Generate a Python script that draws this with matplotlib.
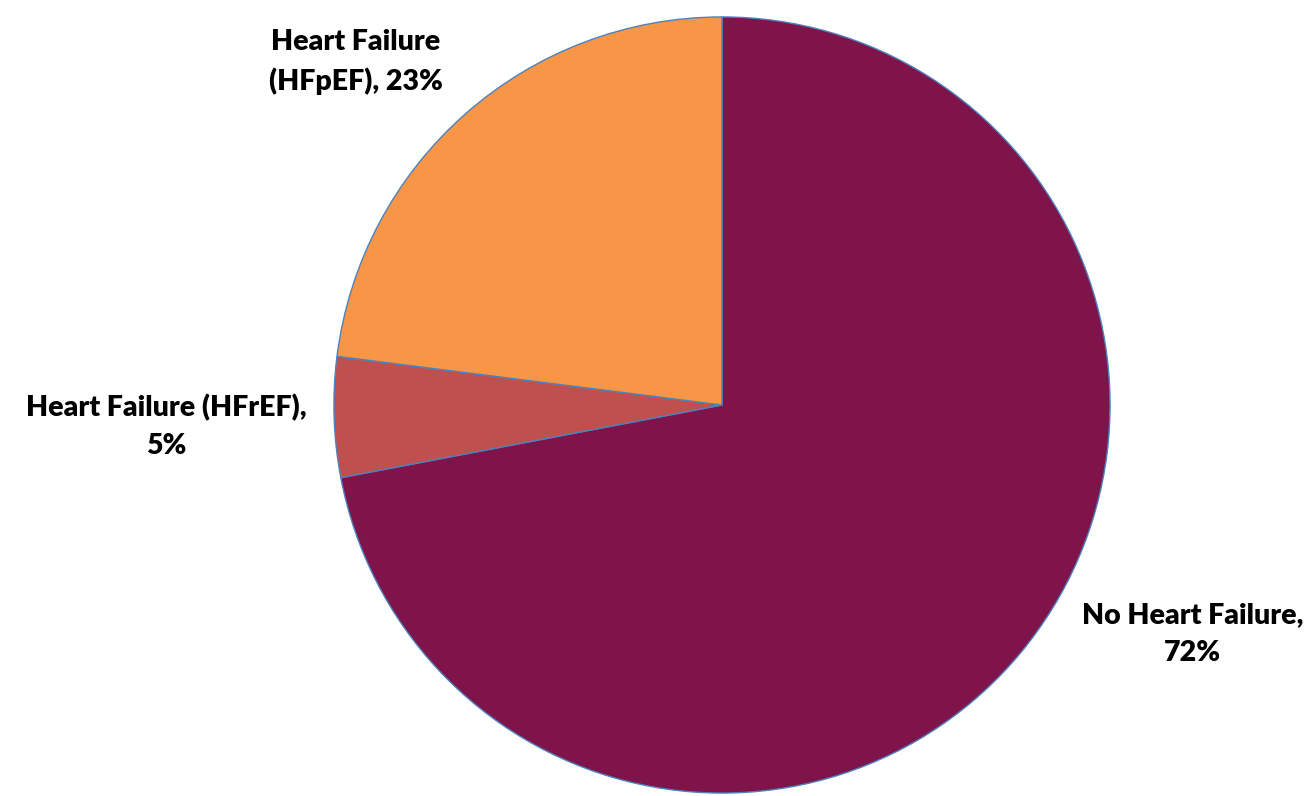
import matplotlib.pyplot as plt

categories = ['No Heart Failure', 'Heart Failure (HFrEF)', 'Heart Failure (HFpEF)']
shares = [72, 5, 23]
label_texts = ['No Heart Failure,\n72%', 'Heart Failure (HFrEF),\n5%', 'Heart Failure\n(HFpEF), 23%']

colors = ['#7E144A', '#C0504D', '#F79646']
# label anchor points in data units (pie radius = 1)
label_pos = [(1.213, -0.590), (-1.433, -0.055), (-0.944, 0.885)]

W, H = 1315, 796
fig = plt.figure(figsize=(W / 100, H / 100), dpi=100)
cx, cy, r = 722, 405, 390
ax = fig.add_axes([(cx - r) / W, (H - cy - r) / H, 2 * r / W, 2 * r / H])

ax.pie(shares, colors=colors, startangle=90, counterclock=False, radius=1,
       wedgeprops=dict(edgecolor='#4F81BD', linewidth=1.0))
ax.set_xlim(-1.005, 1.005)
ax.set_ylim(-1.005, 1.005)
ax.set_aspect('equal')
ax.axis('off')

for txt, (x, y) in zip(label_texts, label_pos):
    ax.text(x, y, txt, ha='center', va='center', fontsize=20.5, fontweight='heavy',
            family=['Lato', 'DejaVu Sans'], linespacing=1.55, clip_on=False)

fig.savefig('out.png', dpi=100)
